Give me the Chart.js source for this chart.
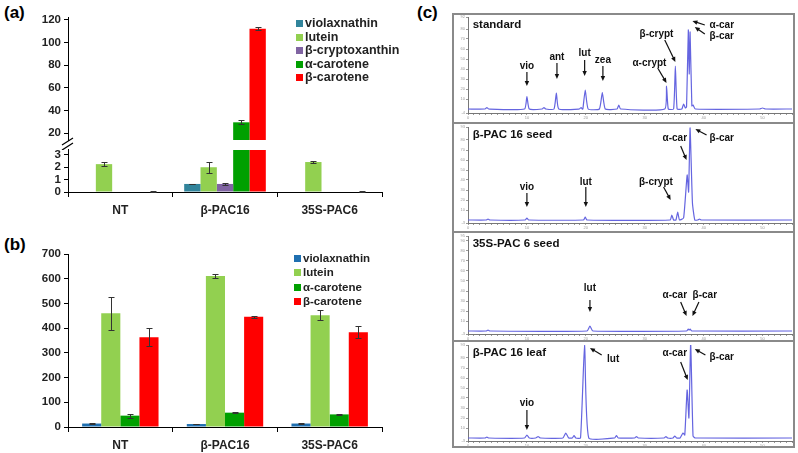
<!DOCTYPE html>
<html>
<head>
<meta charset="utf-8">
<script src="https://cdn.jsdelivr.net/npm/chart.js@4.4.1/dist/chart.umd.min.js"></script>
<style>
  body { margin: 0; background: #fff; width: 798px; height: 453px; position: relative; overflow: hidden;
         font-family: Arial, "Liberation Sans", sans-serif; }
  .box { position: absolute; }
  .tag { position: absolute; font-weight: bold; font-size: 17px; color: #000; }
  .legend { position: absolute; font-weight: bold; color: #222; }
  .legend div { white-space: nowrap; }
  .legend span { display: inline-block; width: 7px; height: 7px; margin-right: 2px; vertical-align: 0px; }
  #legendA { font-size: 12.5px; }
  #legendA div { height: 13.5px; line-height: 13.5px; }
  #legendB { font-size: 11.5px; }
  #legendB div { height: 14.4px; line-height: 14.4px; }
  .frame { position: absolute; left: 452px; width: 343px; border: 2px solid #8a8a8a; box-sizing: border-box; }
</style>
</head>
<body>

<div class="tag" style="left:4px;top:3px">(a)</div>
<div class="tag" style="left:4px;top:235px">(b)</div>
<div class="tag" style="left:417px;top:3px">(c)</div>

<div class="box" style="left:0;top:0;width:400px;height:150px"><canvas id="seedTop"></canvas></div>
<div class="box" style="left:0;top:140px;width:400px;height:80px"><canvas id="seedLow"></canvas></div>
<div class="legend" id="legendA" style="left:296px;top:17px"></div>

<div class="box" style="left:0;top:240px;width:400px;height:213px"><canvas id="leaf"></canvas></div>
<div class="legend" id="legendB" style="left:294px;top:251px"></div>

<div class="frame" style="top:13px;height:111px"></div>
<div class="frame" style="top:122px;height:111px"></div>
<div class="frame" style="top:231px;height:111px"></div>
<div class="frame" style="top:340px;height:108px"></div>
<div class="box" style="left:452px;top:13px;width:343px;height:110px"><canvas id="chromStd"></canvas></div>
<div class="box" style="left:452px;top:123px;width:343px;height:109px"><canvas id="chromSeed"></canvas></div>
<div class="box" style="left:452px;top:232px;width:343px;height:109px"><canvas id="chrom35S"></canvas></div>
<div class="box" style="left:452px;top:341px;width:343px;height:106px"><canvas id="chromLeaf"></canvas></div>

<script>
// ---- (a) seed carotenoids, ug/g, broken y axis ----
const lines = ['NT', 'β-PAC16', '35S-PAC6'];
const seedNames = ['violaxnathin', 'lutein', 'β-cryptoxanthin', 'α-carotene', 'β-carotene'];
const seedViola = [0, 0.65, 0];
const seedLutein = [2.25, 2.0, 2.42];
const seedCrypto = [0, 0.65, 0];
const seedAlpha = [0, 29.6, 0];
const seedBeta = [0.04, 112.2, 0.04];
const seedViolaErr = [0, 0.02, 0];
const seedLuteinErr = [0.17, 0.46, 0.11];
const seedCryptoErr = [0, 0.05, 0];
const seedAlphaErr = [0, 1.8, 0];
const seedBetaErr = [0.02, 1.5, 0.02];
const seedTopTicks = [20, 40, 60, 80, 100, 120];
const seedLowTicks = [0, 1, 2, 3];

// ---- (b) leaf carotenoids ----
const leafNames = ['violaxnathin', 'lutein', 'α-carotene', 'β-carotene'];
const leafViola = [14, 12, 14];
const leafLutein = [460, 611, 452];
const leafAlpha = [46, 58, 51];
const leafBeta = [363, 446, 383];
const leafViolaErr = [3, 1, 3];
const leafLuteinErr = [66, 9, 20];
const leafAlphaErr = [8, 3, 3];
const leafBetaErr = [37, 3, 24];
const leafTicks = [0, 100, 200, 300, 400, 500, 600, 700];

// ---- (c) HPLC traces: retention time (min) / signal ----
const stdTime = [0, 2.9, 3.2, 3.5, 9.6, 10.0, 10.4, 12.6, 12.9, 13.2, 14.6, 15.0, 15.4, 18.9, 19.2, 19.4,
  19.5, 19.9, 20.4, 22.3, 22.8, 23.3, 25.3, 25.6, 25.9, 33.4, 33.7, 34.0, 34.9, 35.2, 35.5, 36.3, 36.6, 36.9,
  37.1, 37.4, 37.55, 37.7, 38.0, 38.2, 38.6, 49.5, 50.0, 50.5, 55];
const stdSignal = [0, 0, 1.5, 0, 0, 12.5, 0, 0, 1.5, 0, 0, 16, 0, 0, 1.5, 0,
  0, 19, 0, 0, 16.5, 0, 0, 4, 0, 0, 23, 0, 0, 43, 0, 0, 5, 1,
  2, 79, 35, 77, 3, 4, 0, 0, 1, 0, 0];
const seedTime = [0, 3.1, 3.4, 3.7, 9.7, 10.0, 10.3, 19.6, 19.9, 20.2, 34.3, 34.6, 34.9, 35.3, 35.6, 35.9,
  36.6, 37.2, 37.45, 37.7, 38.1, 38.5, 39.0, 39.3, 39.6, 55];
const seedSignal = [0, 0, 1, 0, 0, 2, 0, 0, 3, 0, 0, 5, 0, 0, 8, 0,
  2, 45, 28, 92, 17, 0, 0, 1, 0, 0];
const s35Time = [0, 3.1, 3.4, 3.7, 20.2, 20.7, 21.2, 37.1, 37.4, 37.55, 37.7, 38.0, 55];
const s35Signal = [0, 0, 1, 0, 0, 5, 0, 0, 2, 1, 2, 0, 0];
const leafTime = [0, 2.9, 3.2, 3.5, 9.6, 10.0, 10.4, 11.5, 11.9, 12.3, 16.1, 16.6, 17.1, 17.7, 18.0, 18.3,
  19.1, 19.8, 20.5, 24.9, 25.2, 25.5, 28.3, 28.6, 28.9, 33.3, 33.6, 33.9, 34.8, 35.1, 35.4, 36.0, 36.5, 36.8,
  37.2, 37.5, 37.8, 38.2, 38.6, 55];
const leafSignal = [0, 0, 1, 0, 0, 3, 0, 0, 1.5, 0, 0, 5, 0, 0, 2.5, 0,
  0, 95, 0, 0, 2.5, 0, 0, 1.5, 0, 0, 1.5, 0, 0, 2, 0, 0, 5, 3,
  48, 20, 95, 2, 0, 0];

// peak labels: text at (t, y), arrow from [t1, y1] to [t2, y2]
const stdNotes = [
  { text: 'standard', t: 0.8, y: 84, left: true, title: true },
  { text: 'vio', t: 10.0, y: 43, arrow: [10.0, 37, 10.0, 23] },
  { text: 'ant', t: 15.1, y: 52, arrow: [15.1, 46, 15.1, 30] },
  { text: 'lut', t: 19.8, y: 56, arrow: [19.8, 49, 19.8, 33] },
  { text: 'zea', t: 22.9, y: 49, arrow: [22.9, 43, 22.9, 28] },
  { text: 'α-crypt', t: 30.8, y: 46, arrow: [32.2, 41, 33.7, 26] },
  { text: 'β-crypt', t: 32.0, y: 75, arrow: [33.4, 69, 35.2, 47] },
  { text: 'α-car', t: 41.0, y: 84, left: true, arrow: [40.2, 84, 38.1, 88] },
  { text: 'β-car', t: 41.0, y: 73, left: true, arrow: [40.2, 75, 38.5, 82] }
];
const seedNotes = [
  { text: 'β-PAC 16 seed', t: 0.8, y: 85, left: true, title: true },
  { text: 'vio', t: 10.0, y: 33, arrow: [10.0, 27, 10.0, 13] },
  { text: 'lut', t: 20.0, y: 38, arrow: [20.0, 33, 20.0, 13] },
  { text: 'β-crypt', t: 31.9, y: 38, arrow: [33.2, 33, 34.4, 20] },
  { text: 'α-car', t: 35.1, y: 82, arrow: [36.1, 74, 37.1, 60] },
  { text: 'β-car', t: 41.0, y: 82, left: true, arrow: [40.5, 85, 38.6, 91] }
];
const s35Notes = [
  { text: '35S-PAC 6 seed', t: 0.8, y: 87, left: true, title: true },
  { text: 'lut', t: 20.7, y: 43, arrow: [20.7, 31, 20.7, 19] },
  { text: 'α-car', t: 35.1, y: 36, arrow: [36.1, 29, 37.1, 15] },
  { text: 'β-car', t: 40.2, y: 36, arrow: [39.2, 29, 38.1, 15] }
];
const leafNotes = [
  { text: 'β-PAC 16 leaf', t: 0.8, y: 85, left: true, title: true },
  { text: 'vio', t: 10.0, y: 35, arrow: [10.0, 28, 10.0, 8] },
  { text: 'lut', t: 23.6, y: 79, left: true, arrow: [22.7, 83, 20.7, 90] },
  { text: 'α-car', t: 35.1, y: 85, arrow: [36.1, 76, 37.3, 58] },
  { text: 'β-car', t: 41.0, y: 81, left: true, arrow: [40.3, 83, 38.5, 89] }
];

const seedColors = ['#31849b', '#92d050', '#8064a2', '#00a000', '#ff0000'];
const leafColors = ['#1f6fb0', '#92d050', '#00a000', '#ff0000'];
const traceColor = '#6565e0';

Chart.defaults.font.family = 'Arial, "Liberation Sans", sans-serif';
Chart.defaults.animation = false;

const errorBars = {
  id: 'errorBars',
  afterDatasetsDraw(chart) {
    const { ctx, chartArea: a, scales: { y } } = chart;
    ctx.save();
    ctx.beginPath();
    ctx.rect(a.left, a.top - 1, a.right - a.left, a.bottom - a.top + 2);
    ctx.clip();
    ctx.strokeStyle = '#333';
    ctx.lineWidth = 1;
    chart.data.datasets.forEach((ds, i) => {
      if (!ds.errors) return;
      chart.getDatasetMeta(i).data.forEach((bar, j) => {
        const e = ds.errors[j];
        if (!e) return;
        const x = Math.round(bar.x) + 0.5;
        const y1 = Math.round(y.getPixelForValue(ds.data[j] + e)) + 0.5;
        const y2 = Math.round(y.getPixelForValue(ds.data[j] - e)) + 0.5;
        ctx.beginPath();
        ctx.moveTo(x, y1); ctx.lineTo(x, y2);
        ctx.moveTo(x - 3, y1); ctx.lineTo(x + 3, y1);
        ctx.moveTo(x - 3, y2); ctx.lineTo(x + 3, y2);
        ctx.stroke();
      });
    });
    ctx.restore();
  }
};

// the "//" marks where the (a) axis is cut
const axisBreak = {
  id: 'axisBreak',
  afterDraw(chart) {
    const { ctx, chartArea: a } = chart;
    ctx.save();
    ctx.strokeStyle = '#000';
    ctx.lineWidth = 1.2;
    ctx.beginPath();
    ctx.moveTo(a.left - 6, a.bottom + 5); ctx.lineTo(a.left + 5, a.bottom - 2);
    ctx.moveTo(a.left - 6, a.bottom + 10); ctx.lineTo(a.left + 5, a.bottom + 3);
    ctx.stroke();
    ctx.restore();
  }
};

function barSets(names, colors, values, errs) {
  return names.map((n, i) => ({
    label: n, data: values[i], errors: errs[i], backgroundColor: colors[i],
    borderWidth: 0, clip: 0
  }));
}

function yAxis(min, max, tickList, width) {
  return {
    min: min, max: max,
    afterBuildTicks: s => { s.ticks = tickList.map(v => ({ value: v })); },
    afterFit: s => { s.width = width; },
    grid: { drawOnChartArea: false, tickLength: 4, color: '#000' },
    border: { color: '#000' },
    ticks: { color: '#222', padding: 3, autoSkip: false, font: { size: 11.5, weight: 'bold' } }
  };
}

function xAxis(show, height) {
  return {
    display: show,
    afterFit: s => { s.height = height; },
    grid: { drawOnChartArea: false, tickLength: 5, color: '#000', offset: true },
    border: { color: '#000' },
    ticks: { color: '#222', padding: 6, font: { size: 12, weight: 'bold' } }
  };
}

const seedValues = [seedViola, seedLutein, seedCrypto, seedAlpha, seedBeta];
const seedErrs = [seedViolaErr, seedLuteinErr, seedCryptoErr, seedAlphaErr, seedBetaErr];

new Chart(document.getElementById('seedTop'), {
  type: 'bar',
  data: { labels: lines, datasets: barSets(seedNames, seedColors, seedValues, seedErrs) },
  options: {
    responsive: true, maintainAspectRatio: false,
    layout: { padding: { top: 17, bottom: 8, left: 0, right: 18 } },
    datasets: { bar: { categoryPercentage: 0.78, barPercentage: 1 } },
    plugins: { legend: { display: false }, tooltip: { enabled: false } },
    scales: { x: xAxis(false, 0), y: yAxis(13.9, 122.6, seedTopTicks, 68) }
  },
  plugins: [errorBars, axisBreak]
});

new Chart(document.getElementById('seedLow'), {
  type: 'bar',
  data: { labels: lines, datasets: barSets(seedNames, seedColors, seedValues, seedErrs) },
  options: {
    responsive: true, maintainAspectRatio: false,
    layout: { padding: { top: 7, bottom: 0, left: 0, right: 18 } },
    datasets: { bar: { categoryPercentage: 0.78, barPercentage: 1 } },
    plugins: { legend: { display: false }, tooltip: { enabled: false } },
    scales: { x: xAxis(true, 28), y: yAxis(0, 3.4, seedLowTicks, 68) }
  },
  plugins: [errorBars]
});

new Chart(document.getElementById('leaf'), {
  type: 'bar',
  data: {
    labels: lines,
    datasets: barSets(leafNames, leafColors, [leafViola, leafLutein, leafAlpha, leafBeta],
      [leafViolaErr, leafLuteinErr, leafAlphaErr, leafBetaErr])
  },
  options: {
    responsive: true, maintainAspectRatio: false,
    layout: { padding: { top: 14, bottom: 0, left: 0, right: 18 } },
    datasets: { bar: { categoryPercentage: 0.73, barPercentage: 1 } },
    plugins: { legend: { display: false }, tooltip: { enabled: false } },
    scales: { x: xAxis(true, 26), y: yAxis(0, 700, leafTicks, 68) }
  },
  plugins: [errorBars]
});

function fillLegend(id, names, colors) {
  document.getElementById(id).innerHTML = names.map((n, i) =>
    `<div><span style="background:${colors[i]}"></span>${n}</div>`).join('');
}
fillLegend('legendA', seedNames, seedColors);
fillLegend('legendB', leafNames, leafColors);

// ---- chromatograms ----
const peakNotes = {
  id: 'peakNotes',
  afterDatasetsDraw(chart, args, opts) {
    const { ctx, scales: { x, y } } = chart;
    ctx.save();
    ctx.fillStyle = '#111';
    ctx.strokeStyle = '#111';
    ctx.textBaseline = 'middle';
    (opts.notes || []).forEach(n => {
      ctx.font = `bold ${n.title ? 11.5 : 10}px Arial, "Liberation Sans", sans-serif`;
      ctx.textAlign = n.left ? 'left' : 'center';
      ctx.fillText(n.text, x.getPixelForValue(n.t), y.getPixelForValue(n.y));
      if (!n.arrow) return;
      const x1 = x.getPixelForValue(n.arrow[0]), y1 = y.getPixelForValue(n.arrow[1]);
      const x2 = x.getPixelForValue(n.arrow[2]), y2 = y.getPixelForValue(n.arrow[3]);
      const ang = Math.atan2(y2 - y1, x2 - x1);
      ctx.lineWidth = 1.2;
      ctx.beginPath();
      ctx.moveTo(x1, y1); ctx.lineTo(x2 - 3 * Math.cos(ang), y2 - 3 * Math.sin(ang));
      ctx.stroke();
      ctx.beginPath();
      ctx.moveTo(x2, y2);
      ctx.lineTo(x2 - 5 * Math.cos(ang) + 2.2 * Math.sin(ang), y2 - 5 * Math.sin(ang) - 2.2 * Math.cos(ang));
      ctx.lineTo(x2 - 5 * Math.cos(ang) - 2.2 * Math.sin(ang), y2 - 5 * Math.sin(ang) + 2.2 * Math.cos(ang));
      ctx.closePath();
      ctx.fill();
    });
    ctx.restore();
  }
};

function chromatogram(id, times, signal, yMin, yMax, xHeight, notes) {
  new Chart(document.getElementById(id), {
    type: 'line',
    data: {
      datasets: [{
        data: times.map((t, i) => ({ x: t, y: signal[i] })),
        borderColor: traceColor, borderWidth: 1.2, pointRadius: 0, tension: 0.15, fill: false
      }]
    },
    options: {
      responsive: true, maintainAspectRatio: false,
      layout: { padding: { top: 4, bottom: 0, left: 0, right: 3 } },
      plugins: { legend: { display: false }, tooltip: { enabled: false }, peakNotes: { notes: notes } },
      scales: {
        x: {
          type: 'linear', min: 0, max: 55,
          afterFit: s => { s.height = xHeight; },
          grid: { drawOnChartArea: false, tickLength: 2, color: '#999' },
          border: { color: '#777' },
          ticks: { stepSize: 1, autoSkip: false, maxRotation: 0, padding: 0, color: '#999', font: { size: 4 },
                   callback: v => (v % 10 === 0 ? v : '') }
        },
        y: {
          min: yMin, max: yMax,
          afterFit: s => { s.width = 16; },
          grid: { drawOnChartArea: false, tickLength: 2, color: '#999' },
          border: { color: '#777' },
          ticks: { stepSize: 10, autoSkip: false, padding: 1, color: '#999', font: { size: 4 } }
        }
      }
    },
    plugins: [peakNotes]
  });
}

chromatogram('chromStd', stdTime, stdSignal, -4, 92, 10, stdNotes);
chromatogram('chromSeed', seedTime, seedSignal, -3, 93, 9, seedNotes);
chromatogram('chrom35S', s35Time, s35Signal, -3, 95, 7, s35Notes);
chromatogram('chromLeaf', leafTime, leafSignal, -3, 93, 6, leafNotes);
</script>
</body>
</html>
